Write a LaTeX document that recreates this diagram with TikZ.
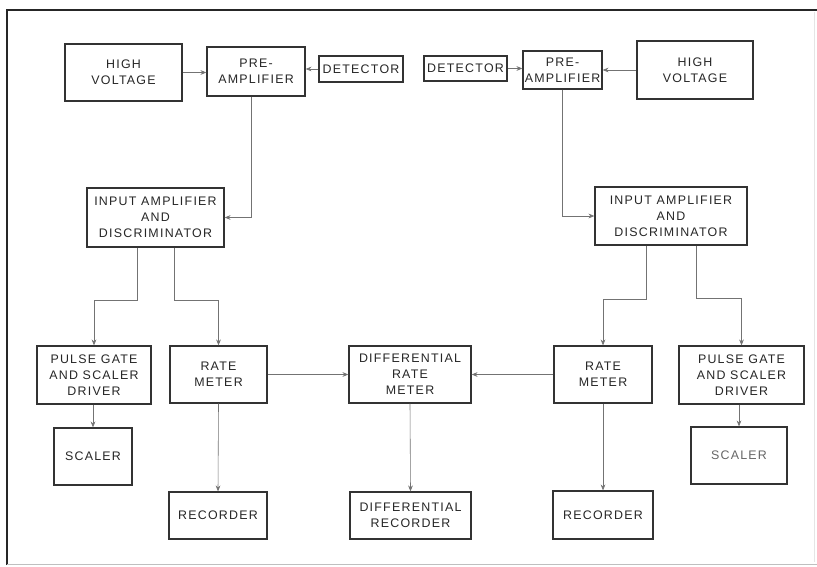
\documentclass[tikz,border=0pt]{standalone}
\usepackage{fontspec}
\setmainfont{Liberation Sans}[LetterSpace=10]
\usetikzlibrary{arrows.meta}

\begin{document}
\begin{tikzpicture}[x=0.03cm,y=-0.03cm,
    block/.style={draw=black!80,line width=1.1pt,align=center,inner sep=0pt,
      font=\fontsize{10.6}{13.6}\selectfont,text=black!85},
    boxsize/.style 2 args={minimum width=#1*0.03cm,minimum height=#2*0.03cm},
    feed/.style={draw=black!55,line width=0.5pt,-{Stealth[length=5pt,width=4pt]}}]
    \useasboundingbox (0,0) rectangle (817,567);
    \draw[black!85,line width=1.5pt] (7,565) -- (7,10) -- (817,10);
    \draw[black!25,line width=0.6pt] (7,564) -- (817,564);
    \draw[black!10,line width=0.5pt] (814,12) -- (814,562);

    % left channel
    \node[block,boxsize={117}{57}] (hvL) at (123.5,72.5) {HIGH\\VOLTAGE};
    \node[block,boxsize={98}{49}] (preL) at (256,71.5) {PRE-\\AMPLIFIER};
    \node[block,boxsize={84}{26}] (detL) at (361,69) {DETECTOR};
    \node[block,boxsize={137}{59}] (inL) at (155.5,217.5) {INPUT AMPLIFIER\\AND\\DISCRIMINATOR};
    \node[block,boxsize={114}{58}] (pgL) at (94,375) {PULSE GATE\\AND SCALER\\DRIVER};
    \node[block,boxsize={97}{57}] (rmL) at (218.5,374.5) {RATE\\METER};
    \node[block,boxsize={78}{57}] (scL) at (93,456.5) {SCALER};
    \node[block,boxsize={98}{47}] (recL) at (218,515.5) {RECORDER};

    % right channel
    \node[block,boxsize={83}{25}] (detR) at (465.5,68.5) {DETECTOR};
    \node[block,boxsize={79}{38}] (preR) at (562.5,70) {PRE-\\AMPLIFIER};
    \node[block,boxsize={116}{58}] (hvR) at (695,70) {HIGH\\VOLTAGE};
    \node[block,boxsize={152}{58}] (inR) at (671,216) {INPUT AMPLIFIER\\AND\\DISCRIMINATOR};
    \node[block,boxsize={98}{57}] (rmR) at (603,374.5) {RATE\\METER};
    \node[block,boxsize={125}{58}] (pgR) at (741.5,375) {PULSE GATE\\AND SCALER\\DRIVER};
    \node[block,boxsize={96}{57},text=black!60] (scR) at (739,455.5) {SCALER};
    \node[block,boxsize={100}{48}] (recR) at (603,515) {RECORDER};

    % common
    \node[block,boxsize={122}{57}] (drm) at (410,374.5) {DIFFERENTIAL\\RATE\\METER};
    \node[block,boxsize={121}{47}] (drec) at (410.5,515.5) {DIFFERENTIAL\\RECORDER};

    \coordinate (dropL) at (251,150);
    \coordinate (tapLa) at (137,300);
    \coordinate (tapLb) at (174,300);
    \coordinate (tapRa) at (646,299);
    \coordinate (tapRb) at (696,298);

    \draw[feed] (hvL.east) -- (hvL.east -| preL.west);
    \draw[feed] (detL.west) -- (detL.west -| preL.east);
    \draw[feed] (preL.south -| dropL) |- (inL.east);
    \draw[feed] (inL.south -| tapLa) -- (tapLa) -| (pgL.north);
    \draw[feed] (inL.south -| tapLb) -- (tapLb) -| (rmL.north);
    \draw[feed] (pgL.south -| scL.north) -- (scL.north);
    \draw[feed] (rmL.south) -- (recL.north);
    \draw[feed] (rmL.east) -- (drm.west);

    \draw[feed] (detR.east) -- (detR.east -| preR.west);
    \draw[feed] (hvR.west) -- (hvR.west -| preR.east);
    \draw[feed] (preR.south) |- (inR.west);
    \draw[feed] (inR.south -| tapRa) -- (tapRa) -| (rmR.north);
    \draw[feed] (inR.south -| tapRb) -- (tapRb) -| (pgR.north);
    \draw[feed] (pgR.south -| scR.north) -- (scR.north);
    \draw[feed] (rmR.south) -- (recR.north);
    \draw[feed] (rmR.west) -- (drm.east);

    \draw[feed] (drm.south) -- (drec.north);
\end{tikzpicture}
\end{document}
